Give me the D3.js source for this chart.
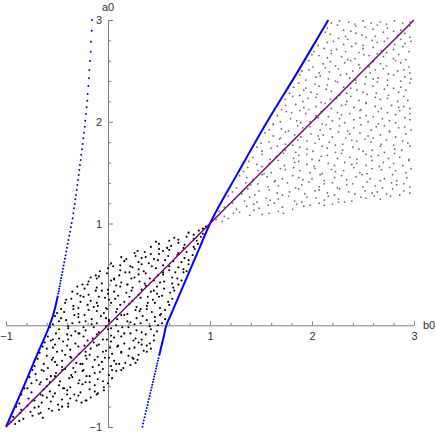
<!DOCTYPE html>
<html>
<head>
<meta charset="utf-8">
<script src="https://d3js.org/d3.v7.min.js"></script>
<style>
body { margin: 0; background: #fff; }
svg { display: block; font-family: "Liberation Sans", Arial, sans-serif; }
.tick text { font-size: 11px; fill: #333; }
.axis path, .axis line { stroke: #808080; }
.lbl { font-size: 11px; fill: #333; }
</style>
</head>
<body>
<svg width="436" height="434"></svg>
<script>
// sample points, flat (b0, a0) pairs in hundredths
var blackPts = [
  -95,-95,-91,-97,-87,-94,
  -93,-90,-86,-86,-83,-92,-74,-89,-68,-87,-64,-91,
  -90,-80,-85,-83,-76,-85,-72,-81,-66,-86,-58,-82,-55,-84,-48,-83,-39,-80,
  -87,-77,-79,-79,-74,-74,-68,-80,-65,-76,-56,-75,-49,-78,-45,-80,-39,-77,-31,-74,-26,-76,-21,-74,
  -85,-68,-78,-72,-72,-74,-64,-69,-60,-71,-54,-70,-45,-73,-40,-68,-37,-72,-29,-69,-22,-74,-17,-71,-11,-68,
  -82,-62,-75,-66,-66,-68,-63,-63,-57,-65,-52,-67,-44,-62,-40,-64,-33,-68,-27,-66,-18,-63,-13,-65,-10,-67,-4,-64,
  -79,-62,-75,-57,-67,-58,-60,-60,-57,-56,-48,-59,-43,-62,-37,-61,-29,-57,-25,-58,-18,-56,-13,-59,-4,-61,0,-57,
  -77,-51,-70,-54,-66,-56,-60,-53,-52,-50,-47,-55,-38,-52,-35,-51,-28,-54,-22,-56,-18,-50,-10,-53,-5,-55,4,-52,
  -74,-44,-71,-48,-63,-45,-56,-50,-51,-47,-45,-44,-36,-49,-32,-46,-25,-45,-21,-50,-13,-47,-8,-46,1,-49,4,-44,8,-45,13,-44,
  -72,-40,-65,-44,-59,-42,-50,-39,-45,-41,-42,-43,-34,-42,-27,-38,-24,-44,-15,-41,-9,-39,-5,-43,3,-40,8,-38,15,-42,22,-39,27,-37,
  -69,-33,-63,-38,-55,-34,-52,-36,-45,-35,-36,-32,-31,-37,-25,-38,-21,-33,-13,-34,-6,-36,-3,-32,6,-35,11,-38,17,-37,25,-33,29,-34,
  -67,-27,-60,-30,-54,-32,-50,-26,-42,-29,-37,-31,-28,-28,-22,-30,-18,-29,-10,-31,-5,-26,1,-32,4,-28,13,-27,20,-30,24,-32,30,-29,38,-26,
  -64,-21,-60,-23,-54,-22,-45,-25,-40,-20,-37,-24,-29,-21,-22,-26,-17,-23,-11,-20,-2,-25,2,-22,9,-21,13,-26,21,-23,26,-22,35,-25,38,-20,42,-23,
  -62,-17,-56,-15,-52,-19,-44,-16,-39,-14,-32,-18,-23,-20,-20,-15,-14,-17,-9,-19,-1,-14,3,-16,10,-20,16,-18,25,-15,30,-17,33,-19,41,-18,45,-15,
  -59,-11,-54,-14,-48,-13,-40,-9,-36,-10,-29,-8,-24,-11,-15,-13,-11,-9,-5,-14,3,-10,6,-12,13,-11,22,-8,27,-13,33,-14,37,-9,45,-10,
  -57,-2,-51,-8,-48,-4,-39,-3,-32,-6,-28,-8,-22,-5,-14,-2,-9,-7,0,-4,3,-3,10,-6,16,-8,20,-2,28,-5,33,-7,42,-4,48,-6,
  -54,1,-48,4,-39,-1,-35,2,-28,3,-24,-2,-16,1,-11,2,-2,-1,1,4,8,0,14,-2,22,3,26,1,32,2,41,-1,46,4,49,0,53,2,
  -52,9,-46,7,-41,5,-33,10,-29,8,-22,4,-16,6,-7,9,-2,7,1,5,9,6,16,10,19,4,28,7,34,9,38,5,46,8,51,10,56,6,
  -50,12,-43,13,-34,16,-29,11,-23,10,-19,15,-11,14,-4,12,-1,16,8,13,13,10,19,11,27,15,31,14,38,16,43,13,52,11,56,15,
  -46,16,-42,22,-34,19,-29,17,-20,20,-14,18,-10,19,-2,17,3,22,9,16,12,20,21,21,28,18,32,16,38,19,46,22,51,17,60,20,
  -41,25,-36,26,-27,23,-24,28,-17,24,-11,22,-3,27,1,25,7,26,16,23,21,28,24,24,32,27,39,22,44,25,50,28,59,23,63,26,
  -35,33,-30,31,-27,29,-19,30,-12,34,-9,28,0,31,6,33,10,29,18,32,23,34,30,30,39,28,42,33,48,31,53,29,61,32,65,34,
  -30,38,-23,36,-20,40,-11,37,-6,34,0,35,8,39,12,38,19,40,24,37,33,35,37,39,45,34,48,38,55,36,64,37,69,40,
  -25,40,-19,43,-11,46,-6,41,3,44,6,45,13,42,19,40,23,46,31,43,36,41,45,44,51,42,55,43,63,41,68,46,72,44,
  -17,47,-12,49,-9,48,-1,51,6,46,11,49,17,52,26,47,30,50,37,51,41,46,49,49,54,50,63,47,66,52,74,52,
  -8,53,0,56,5,58,12,54,21,52,24,57,30,55,35,53,43,58,47,56,54,52,60,54,69,57,74,55,77,53,
  3,61,12,59,16,63,22,58,30,62,33,60,40,61,49,64,54,59,60,58,64,63,72,62,79,60,
  13,67,18,65,27,68,33,66,37,67,45,65,50,70,56,64,59,68,68,69,75,66,79,64,83,69,
  26,71,29,73,36,72,42,70,50,75,54,73,60,74,69,71,74,76,77,72,85,75,
  42,77,47,82,50,80,58,76,62,78,69,81,75,79,84,77,88,80,
  60,83,65,86,69,84,77,87,84,85,87,83,91,87,
  79,91,84,89,89,93,93,90,
  93,95,96,97
];

var grayPts = [
  106,104,112,102,118,105,
  109,112,114,107,123,110,129,111,139,108,143,113,151,109,158,110,167,112,172,110,
  114,116,122,120,126,114,136,117,143,119,148,115,157,118,163,120,171,116,181,114,185,119,192,117,198,118,207,120,212,118,220,119,226,121,
  118,127,124,124,134,122,139,126,146,121,155,125,159,123,167,124,177,127,183,122,190,121,195,126,204,125,212,123,216,127,226,124,232,121,239,122,248,126,253,125,261,127,267,124,277,127,
  122,131,131,129,137,134,144,128,148,132,158,133,166,130,171,128,178,131,187,134,193,129,203,132,207,133,215,130,222,128,227,134,236,131,242,129,252,132,259,130,264,131,273,129,279,134,286,128,290,132,296,130,
  126,135,135,140,140,138,147,139,157,136,163,141,167,137,176,140,184,135,190,138,197,141,207,136,212,139,220,140,225,135,234,138,240,139,250,136,254,141,262,137,269,135,278,140,283,138,290,139,296,136,
  129,147,136,145,142,143,151,148,156,146,164,142,171,144,181,147,187,145,191,143,200,144,208,148,212,142,222,145,229,147,234,143,243,146,249,148,257,144,267,142,271,144,279,148,283,142,293,145,
  133,151,137,155,147,152,153,149,160,150,169,154,174,153,182,155,188,152,198,150,203,154,210,149,219,153,223,151,231,152,241,155,247,150,254,149,259,154,268,153,276,155,282,152,292,150,297,154,
  138,161,146,158,151,156,158,159,167,162,173,157,183,160,187,161,195,158,202,156,207,162,216,159,222,157,232,160,239,158,244,159,253,157,259,162,266,156,270,160,280,159,289,157,295,162,
  142,165,151,168,159,163,165,166,172,169,182,164,187,167,195,168,200,163,209,166,215,167,225,164,229,169,237,165,244,163,253,168,258,166,265,167,275,164,281,169,286,165,295,163,
  146,175,151,171,160,174,166,176,174,172,184,170,188,175,195,173,201,171,210,176,215,174,223,170,230,172,240,175,246,173,250,171,259,172,267,176,271,170,281,173,288,172,296,176,
  150,179,158,180,168,183,174,178,181,177,186,182,195,181,203,179,207,183,217,180,223,177,230,178,239,182,244,181,252,183,258,180,268,178,273,182,280,177,289,181,294,179,
  154,189,162,186,169,184,174,190,183,187,189,185,199,188,206,186,211,187,220,185,226,190,233,184,237,188,247,189,255,186,260,184,267,187,276,190,282,185,292,188,
  158,192,162,197,170,193,177,191,186,196,191,194,198,195,208,192,214,197,218,193,227,196,235,191,241,194,248,197,258,192,263,195,271,196,276,191,285,194,291,195,297,192,
  162,198,169,200,179,203,185,201,189,199,198,200,206,204,210,198,220,201,227,203,232,199,241,202,247,204,255,200,265,198,269,203,276,201,282,199,291,204,296,202,
  166,206,175,210,180,209,188,211,194,208,204,206,209,210,216,205,225,209,229,207,237,208,247,211,253,206,260,205,265,210,274,209,282,207,286,211,296,208,
  170,212,174,216,184,217,192,214,197,212,204,215,213,218,219,213,229,216,233,217,241,214,248,212,253,218,262,215,268,213,278,216,285,214,290,215,296,213,
  174,222,181,225,191,220,196,223,204,224,209,219,218,222,224,223,234,220,238,225,246,221,253,219,262,224,267,222,274,223,284,220,290,225,294,221,
  178,228,188,226,192,231,199,229,205,227,214,232,219,230,227,226,234,228,244,231,250,229,254,227,263,228,271,232,275,226,285,229,292,231,
  182,234,187,238,194,233,203,237,207,235,215,236,225,239,231,234,238,233,243,238,252,237,260,235,264,239,274,236,280,233,287,234,296,238,
  188,246,194,241,204,244,208,245,216,242,223,240,228,246,237,243,243,241,253,244,260,242,265,243,274,241,280,246,287,240,291,244,297,242,
  190,250,197,251,207,248,213,253,217,249,226,252,234,247,240,250,247,253,257,248,262,251,270,252,275,247,284,250,290,251,296,248,
  197,260,201,254,211,257,218,259,223,255,232,258,238,260,246,256,256,254,260,259,267,257,273,255,282,260,287,258,295,254,
  200,266,207,265,215,263,219,267,229,264,235,261,242,262,251,266,256,265,264,267,270,264,280,262,285,266,292,261,
  202,269,212,272,219,270,224,271,233,269,239,274,246,268,250,272,260,273,268,270,273,268,280,271,289,274,295,269,
  206,275,215,278,221,279,231,276,235,281,243,277,250,275,259,280,264,278,271,279,281,276,287,281,291,277,297,279,
  213,288,218,286,226,282,233,284,243,287,249,285,253,283,262,284,270,288,274,282,284,285,291,287,296,283,
  215,292,225,295,231,290,238,289,243,294,252,293,260,291,264,295,274,292,280,289,287,290,296,294,
  219,297,227,299,236,298,242,296,250,299,258,297,267,298,273,296,281,299,289,297,296,298
];

// boundary curves, [b0, a0]
var leftSolid = [[-1,-1],[-0.826,-0.6],[-0.70,-0.3],[-0.612,-0.1],[-0.572,0],[-0.538,0.1],[-0.512,0.2],[-0.492,0.29]];
var leftDots = [
  [-0.488,0.312],[-0.483,0.335],[-0.479,0.359],[-0.474,0.384],[-0.469,0.410],[-0.464,0.437],
  [-0.459,0.465],[-0.453,0.494],[-0.447,0.524],[-0.442,0.555],[-0.435,0.587],[-0.429,0.620],
  [-0.423,0.654],[-0.416,0.689],[-0.409,0.725],[-0.402,0.762],[-0.395,0.800],[-0.388,0.839],
  [-0.380,0.879],[-0.372,0.920],[-0.364,0.962],[-0.356,1.005],[-0.346,1.051],[-0.340,1.100],
  [-0.333,1.149],[-0.326,1.192],[-0.321,1.238],[-0.314,1.280],[-0.307,1.329],[-0.301,1.378],
  [-0.294,1.428],[-0.287,1.477],[-0.281,1.526],[-0.275,1.575],[-0.268,1.624],[-0.262,1.676],
  [-0.255,1.729],[-0.248,1.781],[-0.242,1.837],[-0.235,1.892],[-0.228,1.951],[-0.223,2.010],
  [-0.216,2.076],[-0.209,2.142],[-0.203,2.207],[-0.199,2.273],[-0.193,2.351],[-0.186,2.427],
  [-0.183,2.509],[-0.176,2.597],[-0.170,2.688],[-0.167,2.787],[-0.160,2.895],[-0.157,3.000]
];
var rightSolid = [[0.501,-0.3],[0.525,-0.2],[0.549,-0.1],[0.572,0],[0.615,0.1],[0.679,0.25],[0.786,0.5],
  [0.893,0.75],[1,1],[1.275,1.5],[1.56,2],[1.865,2.5],[2.16,3]];
var rightDots = [
  [0.495,-0.325],[0.489,-0.350],[0.483,-0.375],[0.478,-0.400],[0.471,-0.426],[0.465,-0.452],
  [0.459,-0.478],[0.453,-0.504],[0.447,-0.531],[0.440,-0.558],[0.434,-0.585],[0.428,-0.612],
  [0.421,-0.640],[0.414,-0.668],[0.408,-0.696],[0.401,-0.725],[0.394,-0.754],[0.387,-0.783],
  [0.380,-0.813],[0.373,-0.843],[0.366,-0.873],[0.359,-0.904],[0.351,-0.935],[0.344,-0.966],
  [0.337,-0.997]
];
var diagLine = [[-1,-1],[3,3]];

var majorTicks = [-1, 1, 2, 3];
var minorTicks = [-0.8,-0.6,-0.4,-0.2,0.2,0.4,0.6,0.8,1.2,1.4,1.6,1.8,2.2,2.4,2.6,2.8];

function pairs(arr){
  return d3.range(0, arr.length, 2).map(function(i){ return [arr[i]/100, arr[i+1]/100]; });
}

var svg = d3.select("svg");
var x = d3.scaleLinear().domain([-1, 3]).range([6, 414]);
var y = d3.scaleLinear().domain([-1, 3]).range([427, 20]);

// axes
var gx = svg.append("g").attr("class", "axis")
  .attr("transform", "translate(0," + y(0) + ")");
gx.call(d3.axisBottom(x).tickValues(majorTicks).tickSizeInner(-4).tickSizeOuter(0)
  .tickPadding(7).tickFormat(d3.format("d")));
gx.append("g").call(d3.axisBottom(x).tickValues(minorTicks).tickSizeInner(-2.5).tickSizeOuter(0).tickFormat(""))
  .call(function(g){ g.select(".domain").remove(); });

var gy = svg.append("g").attr("class", "axis")
  .attr("transform", "translate(" + x(0) + ",0)");
gy.call(d3.axisLeft(y).tickValues(majorTicks).tickSizeInner(-5).tickSizeOuter(0)
  .tickPadding(6).tickFormat(d3.format("d")));
gy.append("g").call(d3.axisLeft(y).tickValues(minorTicks).tickSizeInner(-3).tickSizeOuter(0).tickFormat(""))
  .call(function(g){ g.select(".domain").remove(); });

svg.selectAll(".axis text").attr("font-family", null);
svg.selectAll(".axis .tick text").style("font-size", "11px").attr("fill", "#333");

svg.append("text").attr("class", "lbl").attr("x", x(0)).attr("y", 11)
  .attr("text-anchor", "middle").text("a0");
svg.append("text").attr("class", "lbl").attr("x", 423).attr("y", y(0) + 4)
  .text("b0");

// scatter
svg.append("g").selectAll("circle").data(pairs(grayPts)).join("circle")
  .attr("cx", function(d){ return x(d[0]); })
  .attr("cy", function(d){ return y(d[1]); })
  .attr("r", 0.9).attr("fill", "#6e6e6e");

svg.append("g").selectAll("circle").data(pairs(blackPts)).join("circle")
  .attr("cx", function(d){ return x(d[0]); })
  .attr("cy", function(d){ return y(d[1]); })
  .attr("r", 1.05).attr("fill", "#000");

// blue boundary
var curve = d3.line().x(function(d){ return x(d[0]); }).y(function(d){ return y(d[1]); })
  .curve(d3.curveMonotoneY);
[leftSolid, rightSolid].forEach(function(pts){
  svg.append("path").attr("d", curve(pts)).attr("fill", "none")
    .attr("stroke", "#0000ff").attr("stroke-width", 2);
});
svg.append("g").selectAll("circle").data(leftDots.concat(rightDots)).join("circle")
  .attr("cx", function(d){ return x(d[0]); })
  .attr("cy", function(d){ return y(d[1]); })
  .attr("r", 1).attr("fill", "#0000ff");

// a0 = b0
svg.append("path").attr("d", d3.line().x(function(d){ return x(d[0]); }).y(function(d){ return y(d[1]); })(diagLine))
  .attr("fill", "none").attr("stroke", "#800080").attr("stroke-width", 1.5);
</script>
</body>
</html>
